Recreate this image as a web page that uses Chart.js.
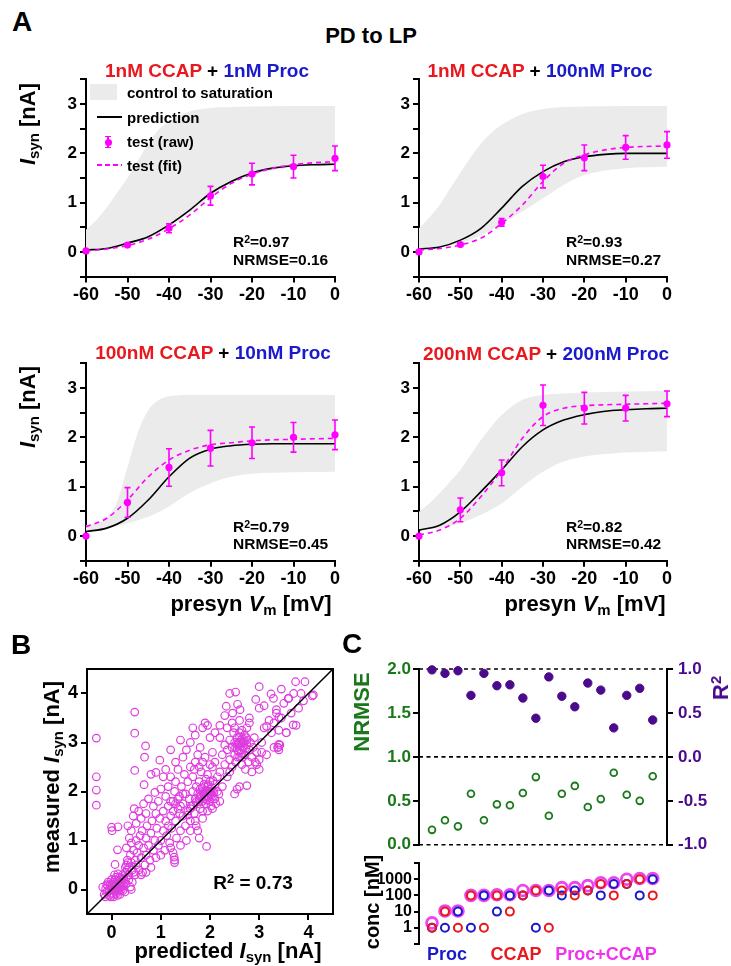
<!DOCTYPE html>
<html><head><meta charset="utf-8">
<script src="https://cdn.jsdelivr.net/npm/chart.js@4.4.1/dist/chart.umd.min.js"></script>
<style>
body{margin:0;background:#fff;}
#wrap{position:relative;width:731px;height:966px;overflow:hidden;font-family:'Liberation Sans',Arial,sans-serif;font-weight:bold;color:#000;}
canvas{position:absolute;}
.t{position:absolute;white-space:nowrap;line-height:1;transform:translate(-50%,-50%);}
.l{position:absolute;white-space:nowrap;line-height:1;transform:translateY(-50%);}
.r{position:absolute;white-space:nowrap;line-height:1;transform:translate(-50%,-50%) rotate(-90deg);}
.box{position:absolute;}
sub{font-size:0.68em;vertical-align:-0.28em;line-height:0;}
sup{font-size:0.68em;vertical-align:0.45em;line-height:0;}
</style></head>
<body><div id="wrap"></div>
<script>
// ---------- DATA ----------
const vCurve = [-60,-55,-50,-45,-40,-35,-30,-25,-20,-15,-10,-5,0];
const vBand  = [-60,-57.5,-55,-52.5,-50,-47.5,-45,-42.5,-40,-35,-30,-25,-20,-10,0];
const vRaw   = [-60,-50,-40,-30,-20,-10,0];
const xTicksA = [-60,-50,-40,-30,-20,-10,0];
const yTicksA = [-0.5,0,0.5,1,1.5,2,2.5,3,3.5];

const predTL = [0.04,0.07,0.18,0.31,0.55,0.85,1.19,1.43,1.60,1.70,1.75,1.77,1.78];
const fitTL  = [0.02,0.06,0.13,0.26,0.47,0.75,1.10,1.39,1.58,1.70,1.77,1.81,1.83];
const rawTL  = [0.02,0.14,0.48,1.14,1.58,1.73,1.90];
const errTL  = [0,0.03,0.09,0.19,0.22,0.23,0.25];
const upTL   = [0.45,0.65,0.90,1.20,1.50,1.85,2.20,2.48,2.65,2.85,2.92,2.94,2.95,2.96,2.96];
const loTL   = [0.03,0.05,0.07,0.10,0.15,0.21,0.28,0.38,0.50,0.80,1.12,1.38,1.56,1.72,1.76];

const predTR = [0.06,0.10,0.24,0.48,0.89,1.33,1.63,1.83,1.93,1.98,2.00,2.00,2.00];
const fitTR  = [0.04,0.07,0.14,0.28,0.58,0.95,1.43,1.80,1.97,2.07,2.12,2.14,2.15];
const rawTR  = [0.00,0.15,0.60,1.53,1.91,2.12,2.17];
const errTR  = [0,0.03,0.08,0.23,0.26,0.24,0.27];
const upTR   = [0.48,0.70,0.95,1.28,1.60,1.92,2.20,2.42,2.58,2.80,2.90,2.94,2.95,2.96,2.96];
const loTR   = [0.04,0.06,0.09,0.13,0.18,0.25,0.34,0.45,0.58,0.82,1.09,1.36,1.56,1.70,1.73];

const predBL = [0.09,0.16,0.36,0.73,1.20,1.58,1.76,1.83,1.86,1.87,1.87,1.87,1.87];
const fitBL  = [0.19,0.36,0.73,1.20,1.54,1.74,1.85,1.89,1.93,1.95,1.96,1.97,1.98];
const rawBL  = [0.00,0.68,1.39,1.78,1.89,2.00,2.05];
const errBL  = [0,0.30,0.38,0.36,0.32,0.30,0.30];
const upBL   = [0.22,0.26,0.36,0.70,1.40,2.10,2.55,2.75,2.83,2.86,2.86,2.86,2.86,2.86,2.86];
const loBL   = [0.08,0.12,0.16,0.20,0.26,0.32,0.39,0.48,0.60,0.87,1.07,1.20,1.26,1.29,1.30];

const predBR = [0.12,0.22,0.49,0.90,1.34,1.81,2.15,2.35,2.46,2.53,2.56,2.58,2.59];
const fitBR  = [0.02,0.12,0.36,0.80,1.34,1.98,2.42,2.59,2.64,2.66,2.67,2.68,2.69];
const rawBR  = [0.00,0.53,1.28,2.65,2.59,2.59,2.68];
const errBR  = [0,0.24,0.26,0.41,0.32,0.26,0.26];
const upBR   = [0.49,0.66,0.87,1.10,1.34,1.64,1.95,2.22,2.45,2.76,2.86,2.89,2.91,2.93,2.94];
const loBR   = [0.12,0.14,0.16,0.20,0.26,0.34,0.43,0.54,0.66,1.00,1.30,1.51,1.61,1.69,1.72];

// Panel B: [predicted, measured]
const ticksB = [0,1,2,3,4];
const diagB = [-0.5,4.5];
const scatterB = [
[-0.15,-0.1],[-0.12,0.02],[-0.1,-0.05],[-0.08,0.08],[-0.05,-0.12],[-0.05,0.0],[-0.02,0.05],[0,-0.08],[0,0.1],[0.02,-0.02],
[0.03,0.15],[0.05,-0.1],[0.05,0.05],[0.07,0.2],[0.08,-0.05],[0.1,0.0],[0.1,0.1],[0.12,-0.12],[0.12,0.18],[0.14,0.05],
[0.15,-0.03],[0.16,0.25],[0.18,0.1],[0.2,0.0],[0.2,0.15],[0.22,0.3],[0.24,0.08],[0.25,0.2],[0.27,-0.05],[0.28,0.35],
[0.3,0.12],[0.3,0.25],[0.32,0.4],[0.35,0.2],[0.35,0.3],[-0.18,0.05],[-0.13,-0.15],[-0.07,0.15],[0.0,0.2],[0.04,-0.15],
[0.09,0.25],[0.13,0.32],[0.17,-0.1],[0.06,0.3],[-0.02,-0.15],[0.11,0.06],[0.19,0.22],[0.23,-0.02],[0.26,0.12],[0.4,0.0],
[0.42,0.15],[0.38,0.05],[0.02,0.1],[0.15,0.12],[-0.1,0.1],[0.08,0.12],[0.21,0.06],
[0.05,0.0],[0.1,-0.08],[0.0,0.0],[0.07,0.08],[0.13,0.0],[-0.03,0.1],[0.18,0.05],[0.25,0.28],[0.28,0.45],[0.33,0.55],
[0.3,0.5],[0.32,0.6],[0.35,0.45],[0.38,0.7],[0.4,0.55],[0.42,0.4],[0.45,0.8],[0.45,0.35],[0.48,0.6],[0.5,0.5],
[0.5,1.0],[0.52,0.75],[0.55,0.9],[0.55,0.4],[0.58,1.1],[0.6,0.65],[0.6,0.3],[0.62,1.2],[0.65,0.85],[0.68,0.5],
[0.7,1.05],[0.7,0.7],[0.72,1.3],[0.75,0.9],[0.78,0.6],[0.8,1.15],[0.8,0.45],[0.82,1.4],[0.85,0.8],[0.88,1.0],
[0.9,0.65],[0.92,1.25],[0.95,0.9],[0.98,1.45],[1.0,0.7],[0.36,1.05],[0.4,1.2],[0.44,1.5],[0.46,1.65],[0.5,1.35],
[0.55,1.6],[0.6,1.45],[0.65,1.75],[0.7,1.55],[0.75,1.85],[0.85,1.7],[0.9,1.55],[0.95,1.8],[0.3,0.85],[0.33,1.3],
[0.4,0.95],[0.48,0.3],[0.63,0.35],[0.7,0.35],
[1.0,1.0],[1.05,1.2],[1.05,1.6],[1.08,0.8],[1.1,1.4],[1.1,1.9],[1.12,1.1],[1.15,1.7],[1.15,2.1],[1.18,0.95],
[1.2,1.5],[1.2,2.3],[1.22,1.25],[1.25,1.8],[1.25,0.75],[1.28,2.0],[1.28,0.6],[1.3,1.4],[1.3,2.2],[1.32,1.05],
[1.35,1.65],[1.35,2.45],[1.38,1.9],[1.4,1.2],[1.4,0.9],[1.42,2.1],[1.45,1.5],[1.45,1.75],[1.48,2.35],[1.5,1.3],
[1.5,1.95],[1.52,1.0],[1.55,1.6],[1.55,2.2],[1.58,1.85],[1.6,1.4],[1.6,2.5],[1.25,1.6],[1.3,1.75],[1.35,1.85],
[1.4,1.7],[1.2,1.8],[1.15,1.3],[1.45,1.95],[1.38,1.55],[1.1,2.45],[1.3,2.6],[1.2,0.85],[1.28,0.55],[1.0,2.05],
[1.05,2.3],[1.45,2.7],[1.52,2.85],[1.4,3.05],
[1.62,1.7],[1.65,2.0],[1.65,2.3],[1.68,1.55],[1.7,1.85],[1.7,2.6],[1.72,2.1],[1.75,1.75],[1.75,1.95],[1.78,2.2],
[1.8,1.65],[1.8,1.9],[1.8,2.05],[1.82,2.4],[1.85,1.8],[1.85,2.0],[1.85,1.6],[1.88,1.95],[1.88,2.15],[1.9,1.85],
[1.9,2.0],[1.9,2.7],[1.92,1.75],[1.95,1.9],[1.95,2.1],[1.95,2.35],[1.98,2.0],[2.0,1.8],[2.0,1.95],[2.0,2.2],
[2.02,1.7],[2.02,2.05],[2.05,1.9],[2.05,2.5],[2.08,2.0],[2.1,1.85],[2.1,2.15],[2.12,1.75],[2.15,2.0],[2.15,2.3],
[2.18,1.95],[2.2,1.8],[1.75,2.75],[1.8,2.9],[1.85,3.3],[1.7,3.15],[1.9,3.4],[1.95,3.35],[2.0,3.1],[1.65,3.3],
[1.6,3.0],[2.05,2.8],[2.1,3.2],[2.2,3.1],[1.95,1.6],[1.85,1.45],[2.05,1.65],[1.7,1.4],[1.6,1.2],[1.72,1.3],
[1.75,1.2],[1.93,0.88],[1.78,1.05],[1.85,2.6],[1.78,2.5],[1.68,2.45],[2.0,2.55],[1.92,2.25],[2.1,2.6],
[1.82,1.92],[1.86,1.97],[1.9,1.92],[1.94,2.02],[1.97,1.96],[2.01,1.99],[2.04,2.08],[1.88,1.88],[1.93,1.83],[1.98,1.88],
[2.03,1.93],[2.07,1.97],[1.84,2.08],[1.96,2.14],[2.06,2.22],[1.78,1.85],[1.72,1.78],[1.66,1.72],[1.6,1.65],[1.55,1.52],
[2.2,2.4],[2.25,2.1],[2.25,2.75],[2.3,2.55],[2.3,2.95],[2.35,2.3],[2.35,2.85],[2.4,2.65],[2.4,3.05],[2.45,2.5],
[2.45,2.9],[2.48,3.2],[2.5,1.95],[2.5,2.75],[2.5,3.0],[2.52,2.6],[2.55,2.85],[2.55,3.1],[2.58,2.95],[2.6,2.7],
[2.6,2.1],[2.6,3.2],[2.62,2.85],[2.65,3.0],[2.65,2.55],[2.68,2.9],[2.7,3.15],[2.7,2.75],[2.72,2.45],[2.75,2.95],
[2.75,3.05],[2.78,2.6],[2.8,2.85],[2.82,3.0],[2.85,2.7],[2.85,2.4],[2.88,2.9],[2.9,3.1],[2.92,2.6],[2.95,2.8],
[3.0,2.65],[2.55,2.05],[2.75,2.12],[2.35,3.3],[2.45,3.4],[2.6,3.45],[2.75,3.3],[2.3,3.55],[2.2,3.35],[2.65,3.25],
[2.5,3.3],[2.58,3.0],[2.63,3.05],[2.4,2.4],[2.8,3.4],[3.0,2.45],[2.95,2.55],[3.05,2.8],
[2.55,2.95],[2.6,3.0],[2.62,2.92],[2.66,3.08],[2.68,2.98],[2.72,2.88],[2.58,2.82],[2.64,2.78],[2.7,3.02],[2.52,2.9],
[2.6,3.12],[2.74,3.1],[2.66,2.7],[2.56,2.7],
[3.05,3.0],[3.1,3.3],[3.15,2.75],[3.2,3.45],[3.25,3.2],[3.3,2.9],[3.35,3.6],[3.4,3.25],[3.4,2.85],[3.45,3.5],
[3.5,3.8],[3.55,3.2],[3.6,3.9],[3.65,3.6],[3.7,4.0],[3.75,3.35],[3.8,3.7],[3.85,4.0],[3.9,3.85],[3.38,2.9],[3.42,2.95],
[-0.31,3.09],[-0.31,2.30],[-0.31,2.03],[-0.31,1.72],[0.47,3.62],[0.47,3.19],[0.69,2.93],[0.67,2.70],[0.47,2.43],[0.90,2.39],
[0.80,2.35],[1.20,2.85],[0.98,2.64],[0.66,2.14],[0.88,1.98],[0.0,1.27],[0.13,1.28],[0.01,1.20],[0.12,0.81],[0.07,0.51],
[1.27,0.66],[3.38,2.90],[3.40,2.96],[3.0,4.14],[2.4,4.0],[2.52,4.03],[3.74,4.24],[3.93,4.24],[4.1,3.97],[4.08,3.95],
[3.55,3.2],[3.69,3.36],[3.24,3.99],[3.45,4.09],[3.59,3.9],[2.93,3.88],[2.33,3.74],[2.56,3.78],[2.61,3.67],[2.46,3.6],
[3.1,3.75],[3.29,3.9],[3.35,3.67],[3.4,3.51],[3.0,3.7],[2.8,3.5],[3.15,3.33],[3.3,3.4]
];

// Panel C
const idxC   = [1,2,3,4,5,6,7,8,9,10,11,12,13,14,15,16,17,18];
const xRangeC = [0,19.1];
const r2C    = [0.99,0.95,0.98,0.70,0.95,0.81,0.82,0.67,0.44,0.91,0.69,0.57,0.84,0.76,0.33,0.70,0.78,0.42];
const nrmseC = [0.17,0.28,0.21,0.58,0.28,0.46,0.45,0.59,0.77,0.33,0.58,0.67,0.43,0.52,0.82,0.57,0.50,0.78];
const refLevelsC = [0,1,2];
const nrmseTicks = [0,0.5,1,1.5,2];
const r2Ticks = [-1,-0.5,0,0.5,1];
const procC  = [1,1,10,1,100,10,100,100,1,200,100,200,200,100,500,500,100,1000];
const ccapC  = [1,10,1,100,1,100,10,100,200,1,200,100,200,500,100,500,1000,100];
const comboC = [2,11,11,101,101,110,110,200,201,201,300,300,400,600,600,1000,1100,1100];
const concTicks = [0.1,1,10,100,1000,10000];
const concLabels = ['','1','10','100','1000',''];

// ---------- STYLE ----------
const MAG = '#ff00ff', BAND = '#ebebeb', RED = '#e8191e', BLUE = '#1a1acc';
const GREEN = '#1a781a', PURPLE = '#4b0a8c', SCAT = '#de3cde';
const FONT = "'Liberation Sans', Arial, sans-serif";
Chart.defaults.font.family = FONT;
Chart.defaults.font.weight = 'bold';
Chart.defaults.color = '#000';

const wrap = document.getElementById('wrap');
function mkCanvas(b){
  const c = document.createElement('canvas');
  c.width = b.w; c.height = b.h;
  c.style.left = b.left+'px'; c.style.top = b.top+'px';
  c.style.width = b.w+'px'; c.style.height = b.h+'px';
  wrap.appendChild(c); return c;
}
function pad(b, a, yL, yR, xH){
  return {left: a.l - b.left - yL, top: a.t - b.top, right: b.left + b.w - a.r - yR, bottom: b.top + b.h - a.b - xH};
}
function txt(cls, x, y, html, style){
  const d = document.createElement('div'); d.className = cls;
  d.style.left = x+'px'; d.style.top = y+'px';
  if (style) d.style.cssText += style;
  d.innerHTML = html; wrap.appendChild(d); return d;
}
function rect(x,y,w,h,style){
  const d = document.createElement('div'); d.className='box';
  d.style.cssText += `left:${x}px;top:${y}px;width:${w}px;height:${h}px;`+style;
  wrap.appendChild(d);
}
const pts = (xs, ys) => xs.map((x,i)=>({x, y: ys[i]}));
const axisGrid = {display:true, drawOnChartArea:false, drawTicks:true, tickLength:6, color:'#000', lineWidth:2};
const axisBorder = {display:true, color:'#000', width:2};
const setTicks = arr => (s => { s.ticks = arr.map(v=>({value:v})); });

function errPlugin(xs, ys, es, color){
  return {id:'errbars', afterDatasetsDraw(chart){
    const {ctx} = chart, x = chart.scales.x, y = chart.scales.y;
    ctx.save(); ctx.strokeStyle = color; ctx.lineWidth = 1.6;
    xs.forEach((v,i)=>{
      if (!es[i]) return;
      const px = x.getPixelForValue(v), p1 = y.getPixelForValue(ys[i]-es[i]), p2 = y.getPixelForValue(ys[i]+es[i]);
      ctx.beginPath();
      ctx.moveTo(px,p1); ctx.lineTo(px,p2);
      ctx.moveTo(px-3,p1); ctx.lineTo(px+3,p1);
      ctx.moveTo(px-3,p2); ctx.lineTo(px+3,p2);
      ctx.stroke();
    });
    ctx.restore();
  }};
}

function panelA(box, area, d){
  const c = mkCanvas(box);
  new Chart(c, {
    type:'scatter',
    data:{datasets:[
      {data:pts(vRaw,d.raw), pointRadius:3.6, pointBackgroundColor:MAG, pointBorderColor:MAG, borderWidth:0, clip:false, order:0},
      {data:pts(vCurve,d.fit), showLine:true, borderColor:MAG, borderWidth:1.6, borderDash:[5,4], pointRadius:0, cubicInterpolationMode:'monotone', order:1},
      {data:pts(vCurve,d.pred), showLine:true, borderColor:'#000', borderWidth:1.6, pointRadius:0, cubicInterpolationMode:'monotone', order:2},
      {data:pts(vBand,d.up), showLine:true, borderWidth:0, borderColor:'rgba(0,0,0,0)', backgroundColor:BAND, fill:'+1', pointRadius:0, cubicInterpolationMode:'monotone', order:3},
      {data:pts(vBand,d.lo), showLine:true, borderWidth:0, borderColor:'rgba(0,0,0,0)', fill:false, pointRadius:0, cubicInterpolationMode:'monotone', order:4}
    ]},
    options:{
      responsive:false, animation:false, devicePixelRatio:1,
      layout:{padding:pad(box, area, 50, 0, 30)},
      plugins:{legend:{display:false}, tooltip:{enabled:false}},
      scales:{
        x:{type:'linear', min:-60, max:0, afterBuildTicks:setTicks(xTicksA),
           ticks:{font:{size:18,weight:'bold'}, color:'#000', padding:2, autoSkip:false, maxRotation:0, callback:v=>String(v)},
           grid:axisGrid, border:axisBorder, afterFit:s=>{s.height=30;}},
        y:{type:'linear', min:-0.5, max:3.5, afterBuildTicks:setTicks(yTicksA),
           ticks:{font:{size:17,weight:'bold'}, color:'#000', padding:3, autoSkip:false, callback:v=>Number.isInteger(v)?String(v):''},
           grid:axisGrid, border:axisBorder, afterFit:s=>{s.width=50;}}
      }
    },
    plugins:[errPlugin(vRaw, d.raw, d.err, MAG)]
  });
}

const yTopA = {t:79.4, b:276.6}, yBotA = {t:363.3, b:560.7};
panelA({left:0, top:60, w:360, h:250}, {l:86, r:335, t:yTopA.t, b:yTopA.b}, {pred:predTL, fit:fitTL, raw:rawTL, err:errTL, up:upTL, lo:loTL});
panelA({left:360, top:60, w:371, h:250}, {l:419, r:667, t:yTopA.t, b:yTopA.b}, {pred:predTR, fit:fitTR, raw:rawTR, err:errTR, up:upTR, lo:loTR});
panelA({left:0, top:340, w:360, h:260}, {l:86, r:335, t:yBotA.t, b:yBotA.b}, {pred:predBL, fit:fitBL, raw:rawBL, err:errBL, up:upBL, lo:loBL});
panelA({left:360, top:340, w:371, h:260}, {l:419, r:667, t:yBotA.t, b:yBotA.b}, {pred:predBR, fit:fitBR, raw:rawBR, err:errBR, up:upBR, lo:loBR});

// Panel B
(function(){
  const box = {left:0, top:640, w:360, h:310}, area = {l:87, r:333, t:669, b:914};
  const frame = {id:'frame', afterDraw(chart){
    const {ctx, chartArea:a} = chart; ctx.save(); ctx.strokeStyle='#000'; ctx.lineWidth=2;
    ctx.strokeRect(a.left, a.top, a.right-a.left, a.bottom-a.top); ctx.restore();
  }};
  new Chart(mkCanvas(box), {
    type:'scatter',
    data:{datasets:[
      {data:pts(diagB, diagB), showLine:true, borderColor:'#000', borderWidth:1.5, pointRadius:0, order:0},
      {data:scatterB.map(p=>({x:p[0], y:p[1]})), pointRadius:3.8, pointBorderWidth:1.2, pointBorderColor:SCAT, pointBackgroundColor:'rgba(0,0,0,0)', order:1}
    ]},
    options:{
      responsive:false, animation:false, devicePixelRatio:1,
      layout:{padding:pad(box, area, 45, 0, 30)},
      plugins:{legend:{display:false}, tooltip:{enabled:false}},
      scales:{
        x:{type:'linear', min:-0.5, max:4.5, afterBuildTicks:setTicks(ticksB),
           ticks:{font:{size:18,weight:'bold'}, color:'#000', padding:2, autoSkip:false, maxRotation:0},
           grid:axisGrid, border:axisBorder, afterFit:s=>{s.height=30;}},
        y:{type:'linear', min:-0.5, max:4.5, afterBuildTicks:setTicks(ticksB),
           ticks:{font:{size:18,weight:'bold'}, color:'#000', padding:3, autoSkip:false},
           grid:axisGrid, border:axisBorder, afterFit:s=>{s.width=45;}}
      }
    },
    plugins:[frame]
  });
})();

// Panel C top
(function(){
  const box = {left:360, top:640, w:371, h:220}, area = {l:419, r:667, t:669, b:850};
  const refSets = refLevelsC.map(lv => ({data:xRangeC.map(x=>({x, y:lv})), yAxisID:'y', showLine:true, borderColor:'#000', borderWidth:1.6, borderDash:[4,3.5], pointRadius:0, clip:false, order:2}));
  new Chart(mkCanvas(box), {
    type:'scatter',
    data:{datasets:[
      {data:pts(idxC, r2C), yAxisID:'y2', pointRadius:4.2, pointBackgroundColor:PURPLE, pointBorderColor:PURPLE, clip:false, order:0},
      {data:pts(idxC, nrmseC), yAxisID:'y', pointRadius:3.4, pointBorderWidth:1.8, pointBorderColor:GREEN, pointBackgroundColor:'rgba(0,0,0,0)', clip:false, order:1},
      ...refSets
    ]},
    options:{
      responsive:false, animation:false, devicePixelRatio:1,
      layout:{padding:pad(box, area, 50, 50, 0)},
      plugins:{legend:{display:false}, tooltip:{enabled:false}},
      scales:{
        x:{type:'linear', min:xRangeC[0], max:xRangeC[1], display:false},
        y:{type:'linear', position:'left', min:0, max:2, afterBuildTicks:setTicks(nrmseTicks),
           ticks:{font:{size:17,weight:'bold'}, color:GREEN, padding:2, autoSkip:false, callback:v=>v.toFixed(1)},
           grid:axisGrid, border:axisBorder, afterFit:s=>{s.width=50;}},
        y2:{type:'linear', position:'right', min:-1, max:1, afterBuildTicks:setTicks(r2Ticks),
           ticks:{font:{size:17,weight:'bold'}, color:PURPLE, padding:5, autoSkip:false, callback:v=>v.toFixed(1)},
           grid:axisGrid, border:axisBorder, afterFit:s=>{s.width=50;}}
      }
    }
  });
})();

// Panel C conc
(function(){
  const box = {left:360, top:850, w:371, h:116}, area = {l:419, r:667, t:863, b:944};
  new Chart(mkCanvas(box), {
    type:'scatter',
    data:{datasets:[
      {data:pts(idxC, ccapC), pointRadius:4, pointBorderWidth:2, pointBorderColor:RED, pointBackgroundColor:'rgba(0,0,0,0)', clip:false, order:0},
      {data:pts(idxC, procC), pointRadius:4, pointBorderWidth:2, pointBorderColor:BLUE, pointBackgroundColor:'rgba(0,0,0,0)', clip:false, order:1},
      {data:pts(idxC, comboC), pointRadius:5.4, pointBorderWidth:2.8, pointBorderColor:'#ee44ee', pointBackgroundColor:'rgba(0,0,0,0)', clip:false, order:2}
    ]},
    options:{
      responsive:false, animation:false, devicePixelRatio:1,
      layout:{padding:pad(box, area, 50, 0, 0)},
      plugins:{legend:{display:false}, tooltip:{enabled:false}},
      scales:{
        x:{type:'linear', min:xRangeC[0], max:xRangeC[1], display:false},
        y:{type:'logarithmic', min:0.1, max:10000, afterBuildTicks:setTicks(concTicks),
           ticks:{font:{size:16,weight:'bold'}, color:'#000', padding:2, autoSkip:false, callback:(v,i)=>concLabels[i]},
           grid:{display:true, drawOnChartArea:false, drawTicks:true, tickLength:5, color:'#000', lineWidth:2},
           border:axisBorder, afterFit:s=>{s.width=50;}}
      }
    }
  });
})();

// ---------- TEXT ----------
txt('t', 22, 22, 'A', 'font-size:28px;');
txt('t', 371, 36, 'PD to LP', 'font-size:22px;');
txt('t', 207, 70, `<span style="color:${RED}">1nM CCAP</span> + <span style="color:${BLUE}">1nM Proc</span>`, 'font-size:19px;');
txt('t', 540, 70, `<span style="color:${RED}">1nM CCAP</span> + <span style="color:${BLUE}">100nM Proc</span>`, 'font-size:19px;');
txt('t', 213, 352, `<span style="color:${RED}">100nM CCAP</span> + <span style="color:${BLUE}">10nM Proc</span>`, 'font-size:19px;');
txt('t', 546, 353, `<span style="color:${RED}">200nM CCAP</span> + <span style="color:${BLUE}">200nM Proc</span>`, 'font-size:19px;');
const isyn = '<i>I</i><sub>syn</sub> [nA]';
txt('r', 28, 124, isyn, 'font-size:22px;');
txt('r', 28, 407, isyn, 'font-size:22px;');
txt('t', 251, 604, 'presyn <i>V</i><sub>m</sub> [mV]', 'font-size:22px;');
txt('t', 585, 604, 'presyn <i>V</i><sub>m</sub> [mV]', 'font-size:22px;');
// annotations
[[233,242,260,'0.97','0.16'],[566,242,260,'0.93','0.27'],[233,527,544,'0.79','0.45'],[566,527,544,'0.82','0.42']].forEach(a=>{
  txt('l', a[0], a[1], 'R<sup>2</sup>=' + a[3], 'font-size:15.5px;');
  txt('l', a[0], a[2], 'NRMSE=' + a[4], 'font-size:15.5px;');
});
// legend (panel A top-left)
rect(90, 84, 27, 16, `background:${BAND};`);
txt('l', 127, 92, 'control to saturation', 'font-size:15px;');
rect(97, 116, 25, 2, 'background:#000;');
txt('l', 127, 117, 'prediction', 'font-size:15px;');
rect(107.2, 136, 1.6, 12, `background:${MAG};`);
rect(105, 135.5, 6, 1.6, `background:${MAG};`);
rect(105, 146.5, 6, 1.6, `background:${MAG};`);
rect(104.5, 138.5, 7, 7, `background:${MAG};border-radius:50%;`);
txt('l', 127, 141, 'test (raw)', 'font-size:15px;');
rect(97, 164, 25, 2, `background:repeating-linear-gradient(to right, ${MAG} 0 5px, transparent 5px 8px);`);
txt('l', 127, 165, 'test (fit)', 'font-size:15px;');

// Panel B text
txt('t', 21, 645, 'B', 'font-size:28px;');
txt('r', 52, 777, 'measured <i>I</i><sub>syn</sub> [nA]', 'font-size:22px;');
txt('t', 228, 951, 'predicted <i>I</i><sub>syn</sub> [nA]', 'font-size:22px;');
txt('t', 253, 882, 'R<sup>2</sup> = 0.73', 'font-size:19px;');

// Panel C text
txt('t', 352, 644, 'C', 'font-size:28px;');
txt('r', 362, 712, 'NRMSE', `font-size:22px;color:${GREEN};`);
txt('r', 721, 688, 'R<sup>2</sup>', `font-size:22px;color:${PURPLE};`);
txt('r', 372, 902, 'conc [nM]', 'font-size:20px;');
txt('t', 447, 954, 'Proc', `font-size:18px;color:${BLUE};`);
txt('t', 516, 954, 'CCAP', `font-size:18px;color:${RED};`);
txt('t', 606, 954, 'Proc+CCAP', `font-size:18px;color:#ee33ee;`);
</script>
</body></html>
